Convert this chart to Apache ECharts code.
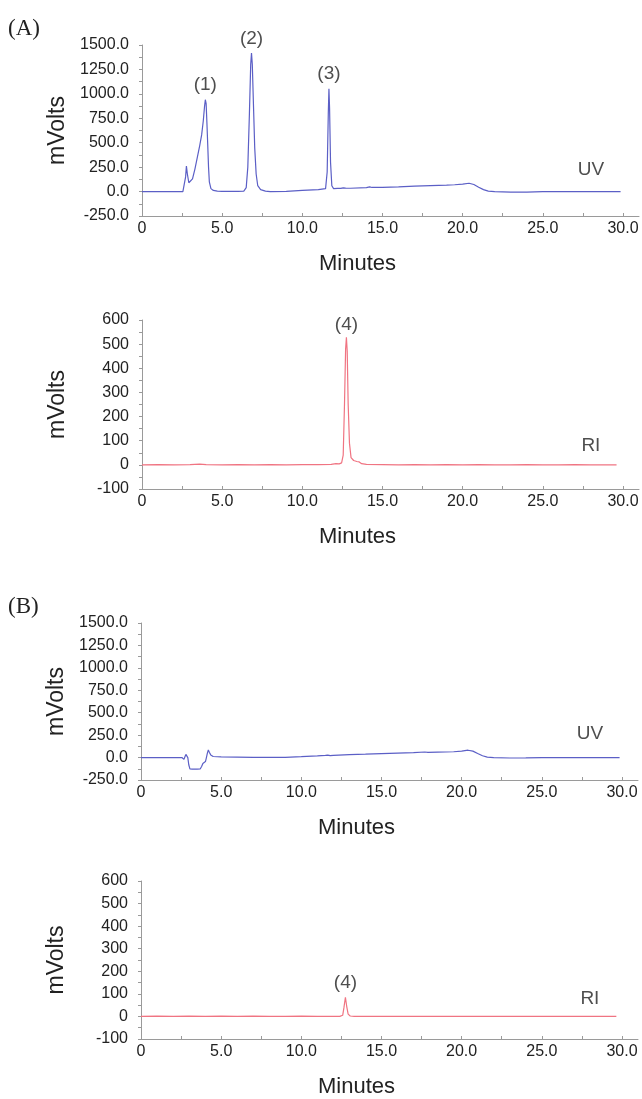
<!DOCTYPE html>
<html>
<head>
<meta charset="utf-8">
<script src="https://cdn.jsdelivr.net/npm/echarts@6/dist/echarts.min.js"></script>
<style>
html,body{margin:0;padding:0;background:#fff;}
#chart{width:642px;height:1099px;}
</style>
</head>
<body>
<div id="chart"></div>
<script>
// ---------- data (minutes, mVolts) ----------
const uvA = [[0,0],[1,0],[2,0],[2.55,0],[2.65,5],[2.72,150],[2.77,260],[2.83,180],[2.92,90],[3.0,75],[3.15,130],[3.3,230],[3.45,350],[3.6,470],[3.72,580],[3.82,720],[3.9,870],[3.95,940],[4.0,900],[4.05,700],[4.1,480],[4.15,250],[4.2,100],[4.3,30],[4.45,12],[4.7,5],[5,3],[6,2],[6.35,5],[6.5,40],[6.6,250],[6.7,800],[6.78,1300],[6.83,1418],[6.88,1300],[6.95,900],[7.03,450],[7.12,180],[7.22,60],[7.4,20],[7.7,5],[8,0],[9,2],[10,12],[11,20],[11.45,30],[11.55,200],[11.62,800],[11.66,1053],[11.7,850],[11.76,300],[11.84,60],[11.95,30],[12.2,32],[12.3,42],[12.4,32],[12.55,38],[12.62,48],[12.7,35],[13,34],[14,40],[14.2,48],[14.35,42],[15,42],[16,48],[17,55],[18,60],[19,65],[19.5,70],[20,77],[20.4,85],[20.7,72],[21,45],[21.3,20],[21.6,5],[22,0],[23,-5],[24,-5],[25,-1],[26,0],[27,0],[28,0],[29,0],[29.85,0]];
const riA = [[0,0],[1,1],[2,0],[3,1],[3.6,3],[4,1],[5,0],[6,1],[7,0],[8,1],[9,0],[10,1],[11,1],[11.8,2],[12.1,5],[12.3,4],[12.45,8],[12.55,40],[12.63,250],[12.7,480],[12.75,528],[12.8,470],[12.86,250],[12.94,90],[13.04,30],[13.2,18],[13.4,14],[13.55,12],[13.7,5],[14,2],[15,1],[16,0],[17,1],[18,0],[19,1],[20,0],[21,1],[22,0],[23,0],[24,1],[25,0],[26,0],[27,1],[28,0],[29,0],[29.6,0]];
const uvB = [[0,0],[1,0],[2,0],[2.55,0],[2.62,-15],[2.68,-20],[2.74,10],[2.8,35],[2.85,38],[2.92,0],[2.98,-80],[3.05,-125],[3.2,-128],[3.5,-128],[3.7,-125],[3.78,-100],[3.86,-65],[3.95,-55],[4.02,-45],[4.08,0],[4.14,50],[4.2,85],[4.26,60],[4.35,30],[4.5,12],[5,8],[6,6],[7,3],[8,2],[9,3],[10,10],[11,18],[11.5,25],[11.65,28],[11.8,22],[12,25],[13,32],[14,38],[15,45],[16,50],[17,55],[17.7,62],[17.9,58],[18.5,60],[19,62],[19.5,65],[20,72],[20.4,82],[20.7,72],[21,45],[21.3,20],[21.6,5],[22,0],[23,-5],[24,-3],[25,0],[26,0],[27,0],[28,0],[29,0],[29.85,0]];
const riB = [[0,0],[1,1],[2,0],[3,1],[4,0],[5,1],[6,0],[7,1],[8,0],[9,0],[10,1],[11,0],[12,0],[12.4,0],[12.58,5],[12.66,40],[12.75,85],[12.83,45],[12.92,10],[13.05,2],[13.3,0],[14,0],[15,0],[16,0],[17,0],[18,0],[19,0],[20,0],[21,0],[22,0],[23,0],[24,0],[25,0],[26,0],[27,0],[28,0],[29,0],[29.65,0]];

const peaksA_UV = [{name:'(1)', value:[3.95,940]},{name:'(2)', value:[6.83,1418]},{name:'(3)', value:[11.66,1053]}];
const peaksA_RI = [{name:'(4)', value:[12.75,528]}];
const peaksB_RI = [{name:'(4)', value:[12.75,85]}];
const detectorUV = [{name:'UV', value:[28.0,220]}];
const detectorRI = [{name:'RI', value:[28.0,80]}];
const detectorUVB = [{name:'UV', value:[28.0,270]}];
const detectorRIB = [{name:'RI', value:[28.0,80]}];

const xTickValues = [0,2.5,5,7.5,10,12.5,15,17.5,20,22.5,25,27.5,30];
const xLabelValues = [0,5,10,15,20,25,30];
const panelTitles = ['(A)','(B)'];
const xName = 'Minutes';
const yName = 'mVolts';

// ---------- styling ----------
const FONT = "'Liberation Sans', Arial, sans-serif";
const AXIS = '#9a9a9a';
const TXT = '#222';
const UV_COLOR = '#5b5fc6';
const RI_COLOR = '#f07482';

const grids = [
  {left:142, top:45,  width:497, height:171},
  {left:142, top:320, width:497, height:169},
  {left:141, top:623, width:497, height:157},
  {left:141, top:881, width:497, height:160}
];

function xAxis(i){
  return {
    type:'value', gridIndex:i, min:0, max:31,
    name:xName, nameLocation:'middle', nameGap:37,
    nameTextStyle:{fontFamily:FONT, fontSize:22, color:TXT, padding:[0,66,0,0]},
    axisLine:{show:true, onZero:false, lineStyle:{color:AXIS, width:1}},
    axisTick:{show:true, inside:true, length:3, customValues:xTickValues, lineStyle:{color:AXIS}},
    axisLabel:{show:true, margin:5, customValues:xLabelValues, fontFamily:FONT, fontSize:16, color:TXT,
      formatter:v => v===0 ? '0' : v.toFixed(1)},
    splitLine:{show:false}
  };
}
function yAxis(i, uv){
  return {
    type:'value', gridIndex:i,
    min: uv ? -250 : -100, max: uv ? 1500 : 600, interval: uv ? 250 : 100,
    name:yName, nameLocation:'middle', nameGap:73,
    nameTextStyle:{fontFamily:FONT, fontSize:23, color:TXT},
    axisLine:{show:true, onZero:false, lineStyle:{color:AXIS, width:1}},
    axisTick:{show:true, inside:false, length:3, lineStyle:{color:AXIS}},
    minorTick:{show:true, splitNumber:2, length:3, lineStyle:{color:AXIS}},
    axisLabel:{show:true, margin:13, fontFamily:FONT, fontSize:16, color:TXT,
      formatter:v => uv ? v.toFixed(1) : String(v)},
    splitLine:{show:false}, minorSplitLine:{show:false}
  };
}
function lineSeries(i, data, color){
  return {type:'line', xAxisIndex:i, yAxisIndex:i, data:data, showSymbol:false, symbol:'none',
    lineStyle:{color:color, width:1.2}, itemStyle:{color:color}, silent:true, animation:false};
}
function textSeries(i, data, dist, pos){
  return {type:'scatter', xAxisIndex:i, yAxisIndex:i, data:data, symbolSize:0, silent:true, animation:false,
    itemStyle:{color:'transparent'},
    label:{show:true, position:pos, distance:dist, formatter:p => p.name,
      fontFamily:FONT, fontSize:19, color:TXT}};
}

const option = {
  backgroundColor:'#fff',
  animation:false,
  title:[
    {text:panelTitles[0], left:8, top:17, padding:0, textStyle:{fontFamily:"'Liberation Serif','Times New Roman',serif", fontSize:23, fontWeight:'normal', color:TXT}},
    {text:panelTitles[1], left:8, top:595, padding:0, textStyle:{fontFamily:"'Liberation Serif','Times New Roman',serif", fontSize:23, fontWeight:'normal', color:TXT}}
  ],
  grid:grids,
  xAxis:[xAxis(0), xAxis(1), xAxis(2), xAxis(3)],
  yAxis:[yAxis(0,true), yAxis(1,false), yAxis(2,true), yAxis(3,false)],
  series:[
    lineSeries(0, uvA, UV_COLOR),
    lineSeries(1, riA, RI_COLOR),
    lineSeries(2, uvB, UV_COLOR),
    lineSeries(3, riB, RI_COLOR),
    textSeries(0, peaksA_UV, 5, 'top'),
    textSeries(1, peaksA_RI, 3, 'top'),
    textSeries(3, peaksB_RI, 5, 'top'),
    textSeries(0, detectorUV, 0, 'inside'),
    textSeries(1, detectorRI, 0, 'inside'),
    textSeries(2, detectorUVB, 0, 'inside'),
    textSeries(3, detectorRIB, 0, 'inside')
  ]
};

const chart = echarts.init(document.getElementById('chart'), null, {renderer:'canvas'});
chart.setOption(option);
</script>
</body>
</html>
